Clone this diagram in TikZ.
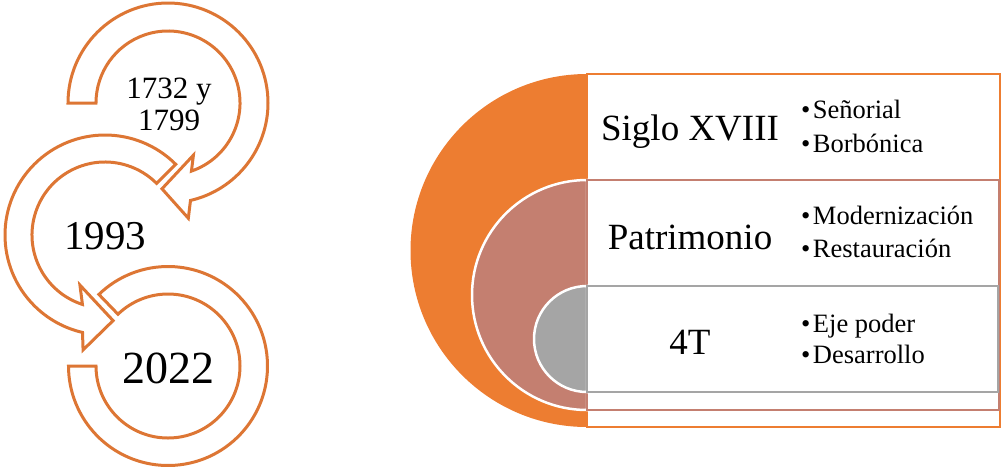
\documentclass[tikz,border=0pt]{standalone}
\usepackage{fontspec}
\setmainfont{Liberation Serif}
\definecolor{naranja}{HTML}{ED7D31}
\definecolor{trazo}{HTML}{DD7634}
\definecolor{rosa}{HTML}{C47F70}
\definecolor{gris}{HTML}{A5A5A5}
\begin{document}
\begin{tikzpicture}[x=1pt, y=-1pt, flecha/.style={draw=trazo, line width=3pt, fill=white}, titulo/.style={font=\fontsize{37}{40}\selectfont, anchor=base}, vineta/.style={font=\fontsize{26.5}{30}\selectfont, anchor=base west, inner sep=0pt}]
	\useasboundingbox (0,0) rectangle (1003,467);
	\begin{scope}[shift={(168,366)}]
		\draw[flecha] (226:99.5) arc[start angle=226, end angle=540, radius=99.5] -- (540:72) arc[start angle=540, end angle=226, radius=72] -- cycle;
	\end{scope}
	\begin{scope}[shift={(105,235)}]
		\draw[flecha] (315:100) arc[start angle=315, end angle=103, radius=100] -- (100.8:117) -- (84.6:86) -- (116.6:56) -- (108:73) arc[start angle=108, end angle=315, radius=73] -- cycle;
	\end{scope}
	\begin{scope}[shift={(168,103)}]
		\draw[flecha] (180:100) arc[start angle=180, end angle=437, radius=100] -- (440:117) -- (454:86) -- (424:58) -- (431:72) arc[start angle=431, end angle=180, radius=72] -- cycle;
	\end{scope}
	\node[font=\fontsize{31}{32}\selectfont, anchor=base] (a1732) at (169,98) {1732 y};
	\node[font=\fontsize{31}{32}\selectfont, anchor=base] (a1799) at (169,130) {1799};
	\node[font=\fontsize{41}{44}\selectfont, anchor=base] (a1993) at (105,249) {1993};
	\node[font=\fontsize{46}{48}\selectfont, anchor=base] (a2022) at (168,383) {2022};
	\fill[naranja] (587,74) arc[start angle=270, end angle=90, radius=176.5] -- cycle;
	\draw[naranja, line width=2pt, fill=white] (587,74) rectangle (1000,427);
	\filldraw[fill=rosa, draw=white, line width=2.5pt] (587,180) arc[start angle=270, end angle=90, radius=115] -- cycle;
	\draw[rosa, line width=2pt, fill=white] (587,180) rectangle (999,410);
	\filldraw[fill=gris, draw=white, line width=2.5pt] (587,286) arc[start angle=270, end angle=90, radius=53] -- cycle;
	\draw[gris, line width=2pt, fill=white] (587,286) rectangle (998,392);
	\node[titulo] (siglo) at (690,140) {Siglo XVIII};
	\node[titulo] (patrimonio) at (690,249) {Patrimonio};
	\node[titulo] (cuatrot) at (690,354) {4T};
	\foreach \t/\y [count=\i] in {Señorial/118, Borbónica/152, Modernización/224, Restauración/257, Eje poder/332, Desarrollo/363}
		\node[vineta] (v\i) at (801,\y) {•\kern2.5pt\t};
\end{tikzpicture}
\end{document}
